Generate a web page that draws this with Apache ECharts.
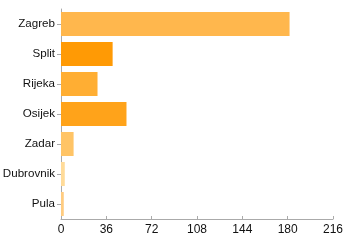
<!DOCTYPE html>
<html>
<head>
<meta charset="utf-8">
<script src="https://cdn.jsdelivr.net/npm/echarts@6/dist/echarts.min.js"></script>
<style>html,body{margin:0;padding:0;background:#fff}#c{width:345px;height:240px}</style>
</head>
<body>
<div id="c"></div>
<script>
var categories = ['Zagreb', 'Split', 'Rijeka', 'Osijek', 'Zadar', 'Dubrovnik', 'Pula'];
var values = [181.5, 41, 29, 52, 10, 3, 2.2];
var barColors = ['#FFB74D', '#FF9A05', '#FFAE33', '#FFA31A', '#FFC466', '#FFDB99', '#FFCC80'];
var xTicks = [0, 36, 72, 108, 144, 180, 216];

var chart = echarts.init(document.getElementById('c'), null, {renderer: 'canvas'});
chart.setOption({
  animation: false,
  grid: {left: 61, right: 12, top: 9, bottom: 21, containLabel: false, outerBoundsMode: 'none'},
  xAxis: {
    type: 'value', min: xTicks[0], max: xTicks[xTicks.length - 1], interval: 36,
    splitLine: {show: false},
    axisLine: {show: true, lineStyle: {color: '#aaa'}},
    axisTick: {show: true, inside: true, length: 3, lineStyle: {color: '#aaa'}},
    axisLabel: {color: '#111', fontSize: 12, fontFamily: 'Liberation Sans, Arial, sans-serif', margin: 5}
  },
  yAxis: {
    type: 'category', data: categories, inverse: true,
    axisLine: {show: true, lineStyle: {color: '#aaa'}},
    axisTick: {show: true, alignWithLabel: true, length: 4, lineStyle: {color: '#aaa'}},
    axisLabel: {color: '#111', fontSize: 11.6, fontFamily: 'Liberation Sans, Arial, sans-serif', margin: 6}
  },
  series: [{
    type: 'bar', barCategoryGap: '20%',
    data: values.map(function (v, i) { return {value: v, itemStyle: {color: barColors[i]}}; })
  }]
});
</script>
</body>
</html>
